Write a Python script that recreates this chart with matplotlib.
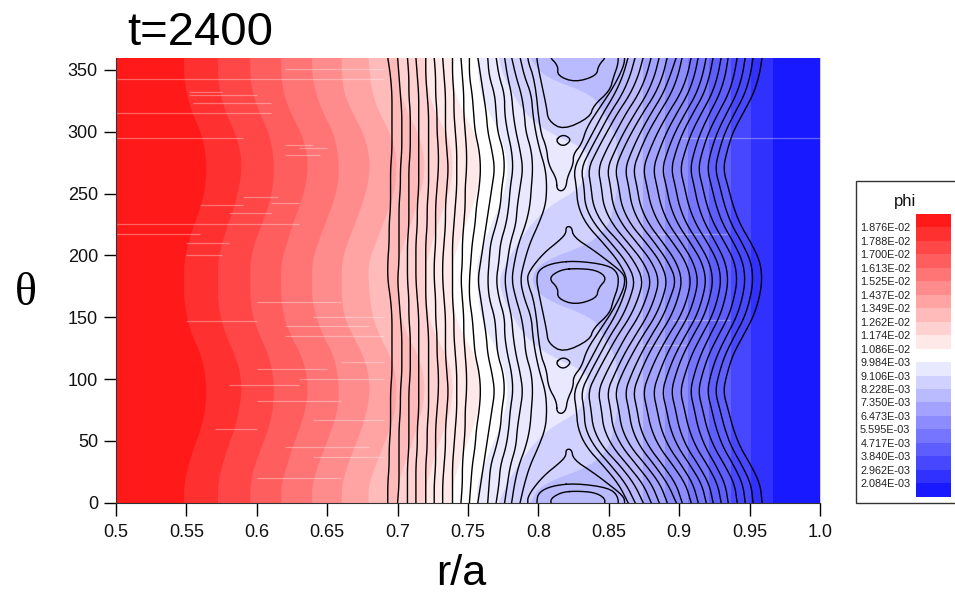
import numpy as np
import matplotlib
matplotlib.use("Agg")
import matplotlib.pyplot as plt
from matplotlib.patches import Rectangle

plt.rcParams['font.family'] = ['Liberation Sans', 'DejaVu Sans']

W, H = 955, 593

# --- data -----------------------------------------------------------------
# the field repeats every 180 degrees; columns are the angles below
station_theta = [0, 15, 30, 45, 60, 75, 90, 105, 120, 135, 150, 165]

# r/a of the coloured band edges, from the red side to the blue side
band_edges = [
    [.548, .548, .551, .555, .560, .563, .564, .563, .560, .554, .550, .548],
    [.572, .572, .575, .579, .584, .587, .589, .588, .584, .578, .574, .572],
    [.595, .595, .598, .603, .608, .611, .612, .611, .608, .602, .597, .595],
    [.617, .617, .621, .625, .630, .634, .636, .635, .631, .624, .619, .617],
    [.639, .639, .643, .648, .653, .657, .658, .657, .654, .647, .642, .639],
    [.660, .660, .664, .669, .674, .678, .680, .679, .675, .668, .662, .660],
    [.679, .679, .684, .689, .694, .698, .699, .698, .694, .687, .682, .680],
    [.700, .700, .704, .709, .713, .717, .719, .718, .714, .707, .702, .700],
    [.720, .720, .724, .728, .733, .737, .739, .738, .734, .727, .722, .720],
    [.739, .739, .743, .748, .753, .757, .759, .758, .754, .747, .741, .739],
    [.756, .756, .761, .766, .772, .776, .778, .776, .772, .765, .759, .757],
    [.7715, .777, .785, .794, .807, .830, .834, .836, .806, .790, .782, .775],
    [.794, .801, .837, .850, .853, .856, .856, .856, .854, .846, .839, .803],
    [.8743] * 12,
    [.8899] * 12,
    [.9062] * 12,
    [.9212] * 12,
    [.9368] * 12,
    [.9510] * 12,
    [.9666] * 12,
]

# r/a of the contour lines that run the whole height of the plot
contour_lines = [
    [.693, .693, .694, .694, .695, .695, .695, .696, .696, .696, .696, .695],
    [.700, .701, .701, .701, .701, .702, .702, .703, .703, .703, .702, .701],
    [.707, .707, .707, .708, .708, .708, .708, .709, .709, .709, .708, .708],
    [.713, .713, .713, .714, .714, .715, .715, .715, .715, .715, .715, .714],
    [.720, .720, .720, .721, .721, .722, .722, .722, .722, .722, .721, .720],
    [.726, .726, .727, .727, .727, .728, .729, .729, .728, .728, .727, .727],
    [.732, .732, .733, .734, .734, .735, .736, .735, .734, .734, .734, .733],
    [.739, .739, .739, .740, .741, .742, .742, .742, .741, .740, .740, .739],
    [.745, .746, .746, .747, .748, .748, .749, .749, .748, .747, .747, .746],
    [.751, .752, .753, .755, .756, .758, .759, .758, .755, .754, .753, .751],
    [.757, .759, .761, .763, .765, .767, .769, .767, .764, .763, .761, .759],
    [.764, .765, .766, .770, .773, .774, .776, .775, .771, .770, .769, .765],
    [.770, .772, .773, .777, .779, .780, .782, .781, .778, .776, .776, .772],
    [.776, .778, .780, .784, .785, .787, .789, .787, .784, .782, .781, .778],
    [.781, .783, .786, .791, .794, .795, .796, .795, .791, .790, .788, .784],
    [.787, .790, .794, .800, .805, .806, .805, .801, .798, .796, .795, .790],
    [.8637, .857, .846, .834, .828, .827, .825, .832, .839, .846, .854, .860],
    [.8687, .8623, .8516, .8399, .8332, .8325, .8303, .8367, .8438, .8509, .8594, .8651],
    [.8744, .8682, .858, .8456, .8389, .8374, .8353, .8417, .8488, .8562, .865, .8709],
    [.8801, .8744, .8637, .8527, .8463, .8448, .8424, .8481, .8552, .8623, .8709, .8766],
    [.8858, .8805, .8701, .8594, .853, .8513, .8488, .8545, .8609, .8687, .8769, .8825],
    [.8915, .8865, .8766, .8655, .8591, .8571, .8545, .8598, .8665, .8741, .8827, .8883],
    [.8979, .892, .8827, .8723, .8663, .8642, .8615, .8665, .8727, .8801, .8882, .8935],
    [.9021, .8978, .8886, .8785, .8723, .8701, .8673, .8723, .8782, .8858, .8939, .8991],
    [.9085, .9046, .8957, .8858, .8799, .8772, .8744, .879, .8849, .8922, .9005, .9057],
    [.9135, .9099, .9018, .8926, .887, .8843, .8815, .8858, .8912, .8983, .906, .9108],
    [.9192, .916, .908, .8991, .8936, .891, .8879, .8919, .8972, .9043, .9119, .9165],
    [.9241, .9213, .9139, .9053, .9, .8974, .8943, .8978, .9028, .9098, .9172, .9216],
    [.9298, .9273, .9202, .9119, .9067, .9038, .9007, .9043, .909, .9158, .923, .9274],
    [.9348, .9327, .9261, .9185, .9135, .9108, .9078, .9109, .9154, .9217, .9285, .9327],
    [.9412, .9393, .9325, .9247, .9197, .9167, .9135, .9166, .9211, .9277, .9348, .9389],
    [.9469, .9452, .9388, .9311, .9263, .9231, .9199, .9227, .9272, .9337, .9406, .9448],
    [.9525, .951, .9447, .9371, .9323, .929, .9255, .9284, .9327, .9394, .9464, .9504],
    [.9589, .9575, .9511, .9433, .9383, .9348, .9312, .9341, .9383, .9454, .9525, .9568],
]

# closed contours of the structure centred on r/a = 0.83 at theta = 180
island_inner_r = [.826, .8153, .807, .8141, .8134, .826, .8414, .8425, .8489, .8414]
island_inner_t = [189.5, 188.2, 181.5, 173.4, 165.3, 159.9, 165.3, 173.4, 181.5, 188.2]
island_mid_r = [.826, .8094, .8, .7987, .7999, .8023, .8058, .807, .8177, .8366, .839,
                .8508, .8532, .8567, .8567, .8496]
island_mid_t = [195.7, 193.6, 188.2, 180.1, 172, 158.5, 139.7, 128.9, 121.3, 131.6, 141,
                153.2, 163.9, 174.7, 185.5, 192.2]
island_outer_r = [.813, .813, .807, .8058, .8011, .7976, .7916, .794, .8035, .8153, .8196,
                  .8196, .8236, .8248, .839, .8485, .8603, .8615, .8603, .8532, .8437,
                  .8343, .8307, .8248, .8248, .8205, .8196, .8165]
island_outer_t = [73.6, 81.7, 93.8, 107.3, 120.8, 161.2, 180.1, 188.2, 201.6, 212.4, 217.8,
                  223.2, 223.2, 215, 204.3, 196.2, 185.5, 180.1, 172, 155.9, 139.7,
                  123.5, 110, 101.9, 93.8, 83, 75, 71.7]
oval_r = [.8125, .8155, .8195, .8232, .8195, .8155]
oval_t = [113, 116.7, 117, 113.5, 109, 109]

# thin pale horizontal streaks: angle, r/a start, r/a end
streak_theta = [350.5, 342.4, 332.4, 329.7, 323, 314.9, 294.7, 289, 286.6, 281.2, 247, 242.6,
                240.7, 234, 225.4, 217, 210, 200, 162, 150, 147, 143, 135, 114, 108, 100,
                95, 82, 67, 60, 45, 37, 20, 294.6, 217, 147.8, 127.5]
streak_r0 = [.62, .5, .552, .552, .555, .5, .5, .62, .63, .62, .59, .61,
             .56, .58, .5, .5, .55, .55, .60, .64, .55, .62, .62, .66, .60, .63,
             .58, .60, .64, .57, .62, .64, .60, .90, .88, .895, .872]
streak_r1 = [.69, .69, .575, .60, .61, .61, .59, .64, .65, .645, .615, .63,
             .59, .61, .63, .56, .58, .575, .66, .69, .60, .68, .69, .69, .65, .69,
             .63, .66, .69, .60, .68, .69, .66, 1.0, .935, .936, .905]

x_ticks = [0.5, 0.55, 0.6, 0.65, 0.7, 0.75, 0.8, 0.85, 0.9, 0.95, 1.0]
x_tick_labels = ['0.5', '0.55', '0.6', '0.65', '0.7', '0.75', '0.8', '0.85', '0.9', '0.95', '1.0']
y_ticks = [0, 50, 100, 150, 200, 250, 300, 350]

legend_labels = ['1.876E-02', '1.788E-02', '1.700E-02', '1.613E-02', '1.525E-02',
                 '1.437E-02', '1.349E-02', '1.262E-02', '1.174E-02', '1.086E-02',
                 '9.984E-03', '9.106E-03', '8.228E-03', '7.350E-03', '6.473E-03',
                 '5.595E-03', '4.717E-03', '3.840E-03', '2.962E-03', '2.084E-03']
band_colors = ['#ff1919', '#ff3030', '#ff4747', '#ff5e5e', '#ff7575', '#ff8c8c', '#ffa3a3',
               '#ffbaba', '#ffd1d1', '#ffe8e8', '#ffffff', '#e8e8ff', '#d1d1ff', '#babaff',
               '#a3a3ff', '#8c8cff', '#7575ff', '#5e5eff', '#4747ff', '#3030ff', '#1919ff']


def whole_height(values):
    """Repeat one 180-degree table over 0..360 degrees."""
    v = list(values)
    return np.array(v + v + v[:1], dtype=float)


def rounded(a, closed=False, passes=2):
    """Corner cutting so that the read-off points join smoothly."""
    a = np.asarray(a, dtype=float)
    for _ in range(passes):
        if closed:
            b = np.roll(a, -1)
            a = np.column_stack([0.75 * a + 0.25 * b, 0.25 * a + 0.75 * b]).ravel()
        else:
            p, q = a[:-1], a[1:]
            mid = np.column_stack([0.75 * p + 0.25 * q, 0.25 * p + 0.75 * q]).ravel()
            a = np.concatenate([a[:1], mid, a[-1:]])
    return a


fig = plt.figure(figsize=(W / 100, H / 100), dpi=100)
ax = fig.add_axes([116 / W, (H - 502.7) / H, 704 / W, 445.2 / H])

theta_all = np.array(list(station_theta) + [t + 180 for t in station_theta] + [360], dtype=float)
theta_fine = rounded(theta_all)

# coloured bands, painted left to right
ax.fill_betweenx(theta_fine, 0.5, 1.0, color=band_colors[0], lw=0)
for edge, colour in zip(band_edges, band_colors[1:]):
    ax.fill_betweenx(theta_fine, rounded(whole_height(edge)), 1.0, color=colour, lw=0)

ax.hlines(streak_theta, streak_r0, streak_r1, colors='white', alpha=0.33, lw=0.9)

# contour lines
for line in contour_lines:
    ax.plot(rounded(whole_height(line)), theta_fine, color='black', lw=1.0)

for shift in (-180, 0, 180):
    for rr, tt in ((island_inner_r, island_inner_t),
                   (island_mid_r, island_mid_t),
                   (island_outer_r, island_outer_t)):
        rf = rounded(rr, closed=True)
        tf = rounded(tt, closed=True) + shift
        ax.plot(np.append(rf, rf[0]), np.append(tf, tf[0]), color='black', lw=1.0)
for shift in (0, 180):
    rf = rounded(oval_r, closed=True)
    tf = rounded(oval_t, closed=True) + shift
    ax.plot(np.append(rf, rf[0]), np.append(tf, tf[0]), color='black', lw=1.0)

ax.set_xlim(0.5, 1.0)
ax.set_ylim(0, 360)
ax.set_xticks(x_ticks, x_tick_labels)
ax.set_yticks(y_ticks)
ax.tick_params(length=9, width=1.0, labelsize=13, color='black', labelcolor='#111111', pad=4)
ax.tick_params(axis='x', pad=6)
ax.spines['top'].set_visible(False)
ax.spines['right'].set_visible(False)
ax.spines['left'].set_color('#333333')
ax.spines['bottom'].set_color('#333333')
ax.set_zorder(3)

fig.text(200 / W, (H - 45) / H, 't=2400', fontsize=34, ha='center', va='baseline', color='black')
fig.text(461 / W, (H - 585) / H, 'r/a', fontsize=31, ha='center', va='baseline', color='black')
fig.text(26 / W, (H - 305) / H, 'θ', fontsize=33, ha='center', va='baseline',
         family=['Liberation Serif', 'DejaVu Serif'], color='black')

# colour legend
fig.add_artist(Rectangle((855.5 / W, (H - 503) / H), 100 / W, 322 / H, transform=fig.transFigure,
                         facecolor='white', edgecolor='#333333', lw=1.0, zorder=1))
fig.text(905 / W, (H - 201) / H, 'phi', fontsize=12, ha='center', va='center', color='#111111',
         zorder=6)
lax = fig.add_axes([916 / W, (H - 496.7) / H, 35 / W, 282.7 / H])
lax.set_zorder(5)
n = len(band_colors)
lax.barh(np.arange(n) + 0.5, 1, height=1.0, color=band_colors[::-1], lw=0)
lax.set_xlim(0, 1)
lax.set_ylim(0, n)
lax.set_xticks([])
lax.set_yticks(np.arange(1, n)[::-1], legend_labels)
lax.tick_params(axis='y', length=0, labelsize=7.8, pad=4, labelcolor='#222222')
for s in lax.spines.values():
    s.set_visible(False)

fig.savefig('out.png', dpi=100)
